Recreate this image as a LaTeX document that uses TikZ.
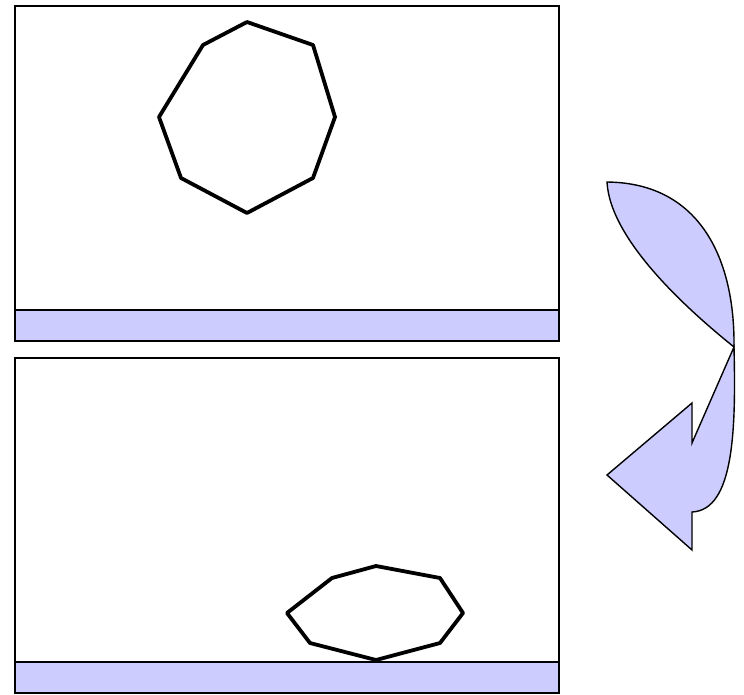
\documentclass[tikz,border=0pt]{standalone}
\usepackage{tikz}

\begin{document}
\begin{tikzpicture}[
    x=1pt,y=-1pt,
    frame/.style={draw,line width=1.6pt},
    ground/.style={draw,fill=blue!20,line width=1.6pt},
    body/.style={draw,line width=3.8pt,line join=round},
    turn/.style={draw,fill=blue!20,line width=1.4pt,line join=miter}
]
\useasboundingbox (0,0) rectangle (744,694);

% before
\draw[frame] (15,6) rectangle (559,341);
\draw[ground] (15,310) rectangle (559,341);
\draw[body] (247,22) -- (313,45) -- (335,117) -- (313,178) -- (247,213)
    -- (181,178) -- (159,117) -- (203,45) -- cycle;

% after
\draw[frame] (15,358) rectangle (559,693);
\draw[ground] (15,662) rectangle (559,693);
\draw[body] (376,566) -- (440,578) -- (463,613) -- (440,643) -- (376,660)
    -- (310,643) -- (287,613) -- (332,578) -- cycle;

% arrow
\draw[turn] (607,182) .. controls (702,183) and (735,262) .. (734,347)
    .. controls (688,310) and (610,240) .. cycle;
\draw[turn] (734,347) -- (692,443) -- (692,403) -- (607,475) -- (692,550)
    -- (692,512) .. controls (734,510) and (736,430) .. (734,347) -- cycle;
\end{tikzpicture}
\end{document}
